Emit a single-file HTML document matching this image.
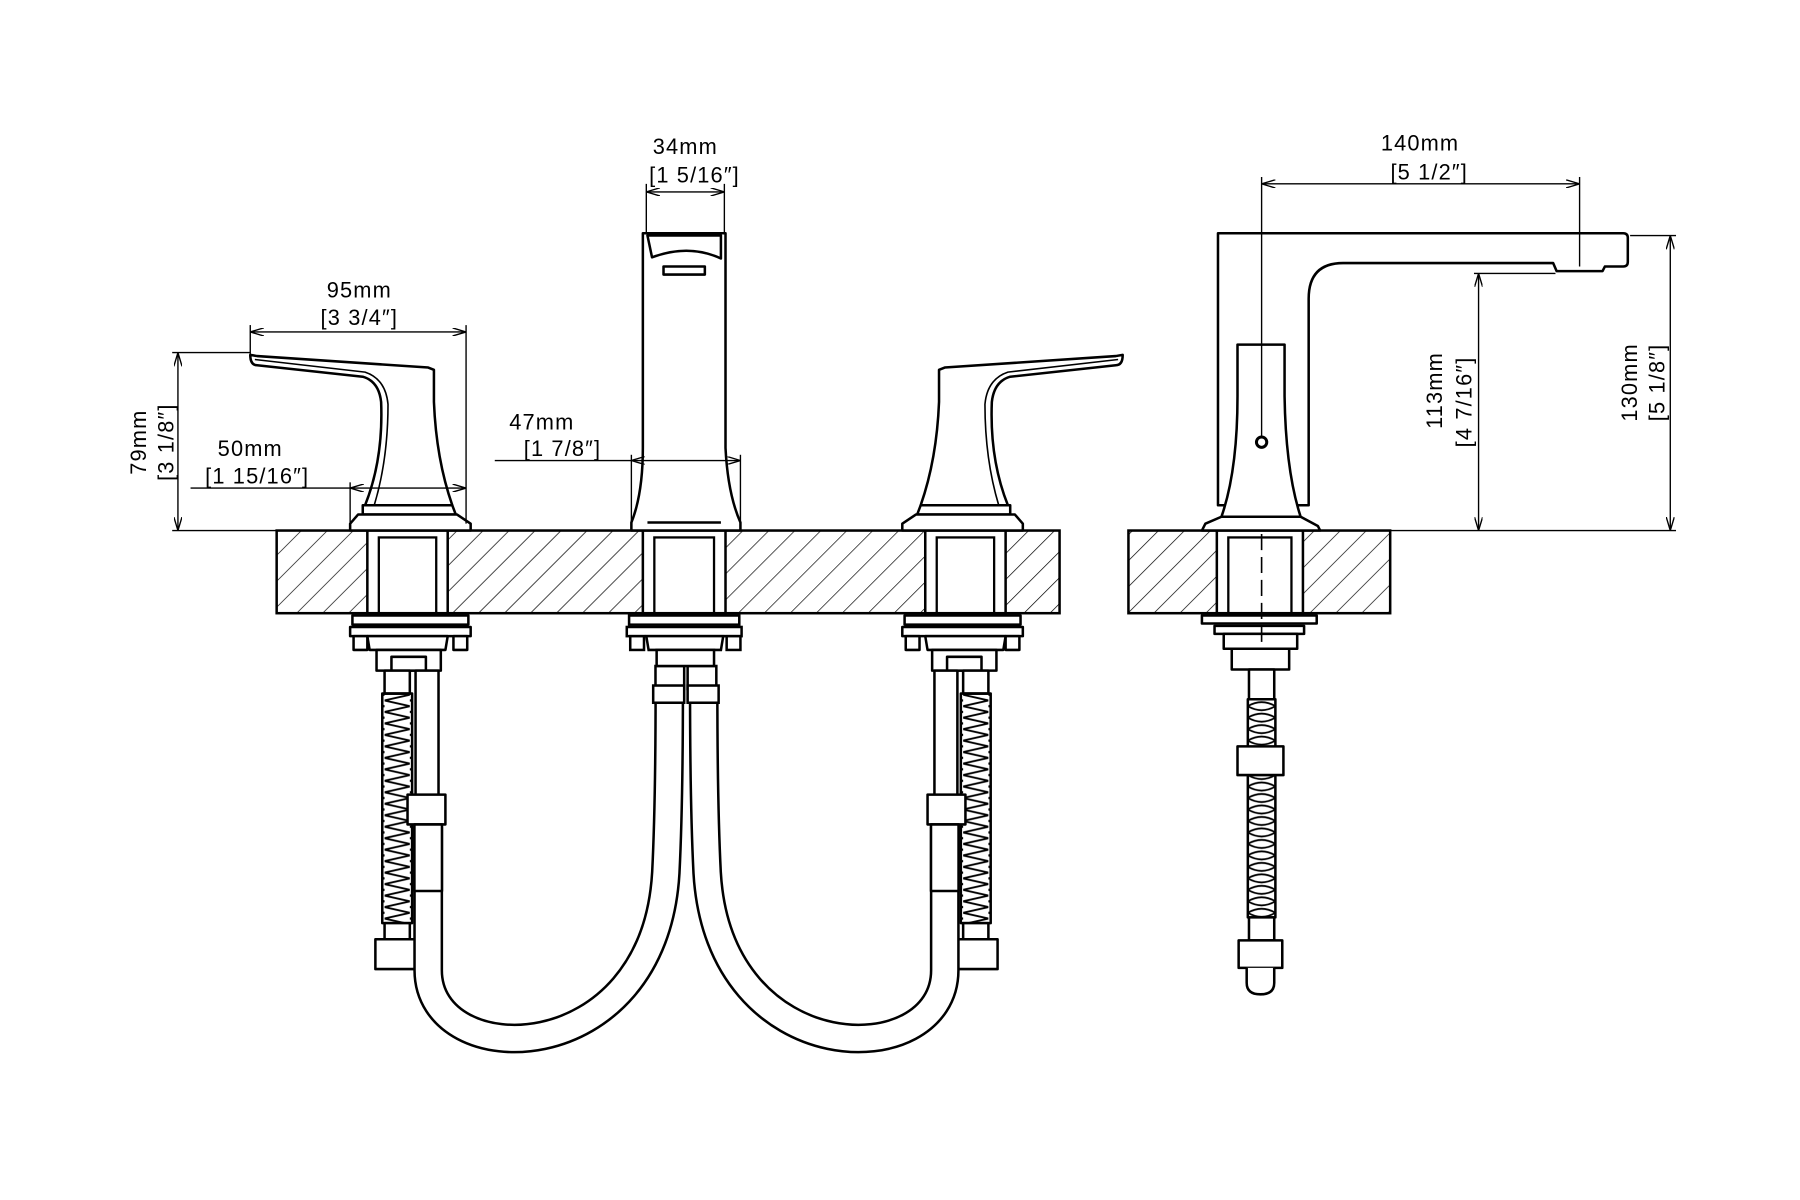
<!DOCTYPE html>
<html><head><meta charset="utf-8"><style>html,body{margin:0;padding:0;background:#fff}svg{display:block}</style></head>
<body>
<svg width="1800" height="1200" viewBox="0 0 1568 1045" xmlns="http://www.w3.org/2000/svg" font-family="Liberation Sans, DejaVu Sans, sans-serif">
<defs>
<pattern id="hatch" patternUnits="userSpaceOnUse" width="16" height="16" patternTransform="rotate(45)">
<line x1="0" y1="0" x2="0" y2="16" stroke="#000" stroke-width="1.2"/>
</pattern>
<pattern id="zz" patternUnits="userSpaceOnUse" x="335" y="600" width="22" height="10">
<polyline points="0,0 22,5 0,10" fill="none" stroke="#000" stroke-width="1.6"/>
</pattern>
<pattern id="zz2" patternUnits="userSpaceOnUse" x="1087" y="600" width="24" height="10">
<path d="M0,5 Q12,-2 24,5 Q12,12 0,5" fill="none" stroke="#000" stroke-width="1.6"/>
</pattern>
<marker id="ar" viewBox="0 0 10 6" refX="10" refY="3" markerWidth="10" markerHeight="6" orient="auto-start-reverse"><path d="M0,0 L10,3 L0,6" fill="none" stroke="#000" stroke-width="1"/></marker>
</defs>
<rect width="1568" height="1045" fill="#fff"/>

<g stroke="#000" stroke-width="2.2">
<rect x="241" y="462" width="682" height="72" fill="url(#hatch)"/>
<rect x="983" y="462" width="228" height="72" fill="url(#hatch)"/>
</g>
<g fill="#fff" stroke="#000" stroke-width="2.2">
<rect x="320" y="462" width="70" height="72"/>
<rect x="560" y="462" width="72" height="72"/>
<rect x="806" y="462" width="70" height="72"/>
<rect x="1060" y="462" width="75" height="72"/>
</g>
<g fill="none" stroke="#000" stroke-width="2">
<rect x="330" y="468" width="50" height="66"/>
<rect x="570" y="468" width="52" height="66"/>
<rect x="816" y="468" width="50" height="66"/>
<rect x="1070" y="468" width="55" height="66"/>
</g>

<g id="valve" fill="#fff" stroke="#000" stroke-width="2.2" stroke-linejoin="round">
<path d="M218,309 Q218,318 224,318 L316,328 Q330,332 332,350 Q334,400 318,440 L394,440 Q380,400 378,350 L378,322 L373,320 L224,310 Z"/>
<path d="M222,313 L318,324 Q336,330 338,352 Q338,400 326,440" fill="none" stroke-width="1.4"/>
<path d="M316,440 L394,440 L397,448 L316,448 Z"/>
<path d="M312,448 L398,448 L410,456 L410,462 L305,462 L305,456 Z"/>
<rect x="307" y="536" width="101" height="8"/>
<rect x="305" y="546" width="105" height="8"/>
<rect x="308" y="554" width="12" height="12"/><rect x="395" y="554" width="12" height="12"/>
<path d="M320,554 L390,554 L388,566 L322,566 Z"/>
<rect x="328" y="566" width="56" height="18"/>
<rect x="341" y="572" width="30" height="12"/>
<rect x="335" y="584" width="22" height="20"/>
<rect x="333" y="604" width="26" height="200" fill="url(#zz)"/>
<rect x="335" y="804" width="22" height="14"/>
<rect x="327" y="818" width="36" height="26"/>
<path d="M373,720 L373,845 C373,935 570,935 580,760 Q583,700 583,600" fill="none" stroke-width="26"/>
<path d="M373,720 L373,845 C373,935 570,935 580,760 Q583,700 583,600" fill="none" stroke="#fff" stroke-width="21.6"/>
<rect x="362" y="584" width="20" height="110"/>
<rect x="355" y="692" width="33" height="26"/>
<rect x="361" y="718" width="24" height="58"/>
</g>
<use href="#valve" transform="translate(1196,0) scale(-1,1)"/>

<g fill="#fff" stroke="#000" stroke-width="2.2">
<rect x="571" y="580" width="25" height="20"/><rect x="599" y="580" width="25" height="20"/>
<rect x="569" y="597" width="27" height="15"/><rect x="599" y="597" width="27" height="15"/>
<rect x="548" y="536" width="96" height="8"/>
<rect x="546" y="546" width="100" height="8"/>
<rect x="549" y="554" width="12" height="12"/><rect x="633" y="554" width="12" height="12"/>
<path d="M563,554 L630,554 L628,566 L565,566 Z"/>
<rect x="572" y="566" width="50" height="14"/>
</g>

<g fill="#fff" stroke="#000" stroke-width="2.2" stroke-linejoin="round">
<path d="M560,203 L632,203 L632,390 Q634,430 645,455 L645,462 L550,462 L550,455 Q560,430 560,390 Z"/>
<path d="M564,205 L628,205 L628,225 Q600,212 568,224 Z" fill="none"/>
<rect x="578" y="232" width="36" height="7"/>
<line x1="564" y1="455" x2="628" y2="455"/>
</g>

<g fill="#fff" stroke="#000" stroke-width="2.2" stroke-linejoin="round">
<path d="M1061,203 L1414,203 Q1418,203 1418,207 L1418,228 Q1418,232 1414,232 L1398,232 L1396,236 L1356,236 L1353,229 L1170,229 Q1140,229 1140,260 L1140,440 L1061,440 Z"/>
<path d="M1078,300 L1119,300 L1119,345 Q1120,410 1133,450 L1148,458 L1150,462 L1047,462 L1050,456 L1064,450 Q1078,410 1078,345 Z"/>
<line x1="1064" y1="450" x2="1133" y2="450"/>
<circle cx="1099" cy="385" r="4.5" stroke-width="2.6"/>
<rect x="1047" y="536" width="100" height="7"/>
<rect x="1058" y="545" width="78" height="7"/>
<rect x="1066" y="552" width="64" height="13"/>
<rect x="1073" y="565" width="50" height="18"/>
<rect x="1088" y="583" width="22" height="26"/>
<rect x="1087" y="609" width="24" height="190" fill="url(#zz2)"/>
<rect x="1078" y="650" width="40" height="25"/>
<rect x="1088" y="799" width="22" height="20"/>
<rect x="1079" y="819" width="38" height="24"/>
<path d="M1086,843 L1086,856 Q1086,866 1098,866 Q1110,866 1110,856 L1110,843"/>
</g>
<line x1="1099" y1="465" x2="1099" y2="560" stroke="#000" stroke-width="1.4" stroke-dasharray="14,6"/>

<g stroke="#000" stroke-width="1.2" fill="none">
<line x1="563" y1="160" x2="563" y2="203"/><line x1="631" y1="160" x2="631" y2="203"/>
<line x1="563" y1="167" x2="631" y2="167" marker-start="url(#ar)" marker-end="url(#ar)"/>
<line x1="1099" y1="154" x2="1099" y2="380"/><line x1="1376" y1="154" x2="1376" y2="232"/>
<line x1="1099" y1="160" x2="1376" y2="160" marker-start="url(#ar)" marker-end="url(#ar)"/>
<line x1="1420" y1="205" x2="1460" y2="205"/><line x1="1211" y1="462" x2="1460" y2="462"/>
<line x1="1455" y1="205" x2="1455" y2="462" marker-start="url(#ar)" marker-end="url(#ar)"/>
<line x1="1284" y1="238" x2="1355" y2="238"/>
<line x1="1288" y1="238" x2="1288" y2="462" marker-start="url(#ar)" marker-end="url(#ar)"/>
<line x1="150" y1="307" x2="218" y2="307"/><line x1="150" y1="462" x2="241" y2="462"/>
<line x1="155" y1="307" x2="155" y2="462" marker-start="url(#ar)" marker-end="url(#ar)"/>
<line x1="218" y1="283" x2="218" y2="309"/><line x1="406" y1="283" x2="406" y2="456"/>
<line x1="218" y1="289" x2="406" y2="289" marker-start="url(#ar)" marker-end="url(#ar)"/>
<line x1="305" y1="420" x2="305" y2="456"/>
<line x1="166" y1="425" x2="305" y2="425"/>
<line x1="305" y1="425" x2="406" y2="425" marker-start="url(#ar)" marker-end="url(#ar)"/>
<line x1="550" y1="396" x2="550" y2="458"/><line x1="645" y1="396" x2="645" y2="458"/>
<line x1="431" y1="401" x2="550" y2="401"/>
<line x1="550" y1="401" x2="645" y2="401" marker-start="url(#ar)" marker-end="url(#ar)"/>
</g>

<g font-size="19" fill="#000" text-anchor="middle" letter-spacing="1">
<text x="597" y="134">34mm</text><text x="605" y="159">[1 5/16″]</text>
<text x="1237" y="131">140mm</text><text x="1245" y="156">[5 1/2″]</text>
<text x="313" y="259">95mm</text><text x="313" y="283">[3 3/4″]</text>
<text x="218" y="397">50mm</text><text x="224" y="421">[1 15/16″]</text>
<text x="472" y="374">47mm</text><text x="490" y="397">[1 7/8″]</text>
<text transform="translate(127,385) rotate(-90)">79mm</text>
<text transform="translate(151,385) rotate(-90)">[3 1/8″]</text>
<text transform="translate(1256,340) rotate(-90)">113mm</text>
<text transform="translate(1282,350) rotate(-90)">[4 7/16″]</text>
<text transform="translate(1426,333) rotate(-90)">130mm</text>
<text transform="translate(1450,333) rotate(-90)">[5 1/8″]</text>
</g>
</svg>
</body></html>
